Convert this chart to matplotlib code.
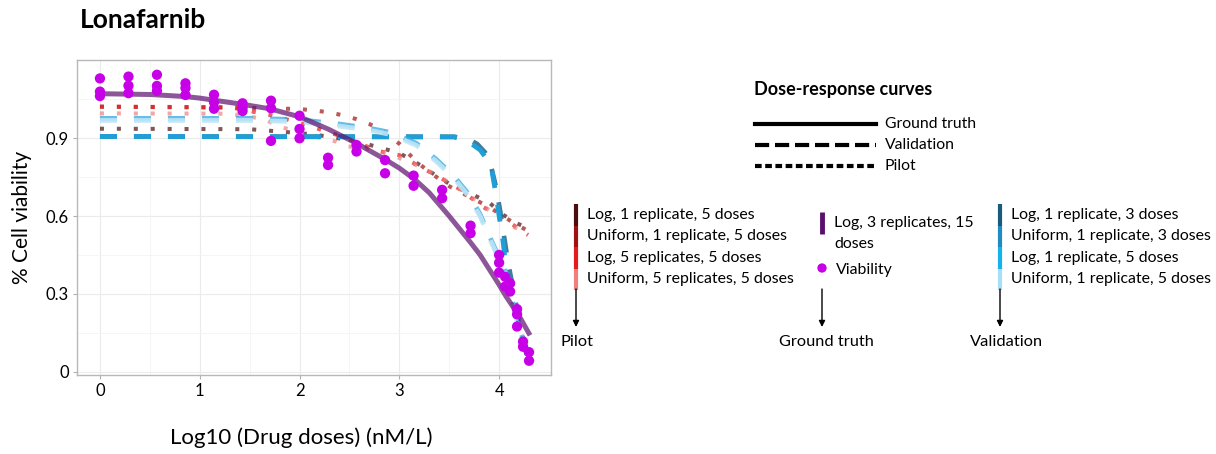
import matplotlib.pyplot as plt

plt.rcParams['font.family'] = ['Lato', 'DejaVu Sans']

# --- viability measurements (log10 dose, % viability) ---
dose_pts = [0, 0, 0, 0.286, 0.286, 0.286, 0.571, 0.571, 0.571,
            0.857, 0.857, 0.857, 1.143, 1.143, 1.143, 1.429, 1.429, 1.429,
            1.714, 1.714, 1.714, 2.0, 2.0, 2.0, 2.286, 2.286, 2.571, 2.571,
            2.857, 2.857, 3.143, 3.143, 3.429, 3.429, 3.714, 3.714,
            4.0, 4.0, 4.0, 4.06, 4.06, 4.11, 4.11, 4.18, 4.18, 4.18,
            4.24, 4.24, 4.30, 4.30]
viab_pts = [1.131, 1.080, 1.063, 1.138, 1.103, 1.074, 1.145, 1.102, 1.083,
            1.112, 1.094, 1.067, 1.068, 1.039, 1.014, 1.035, 1.018, 1.005,
            1.045, 1.016, 0.890, 0.987, 0.936, 0.900, 0.825, 0.797, 0.874, 0.849,
            0.816, 0.765, 0.756, 0.717, 0.701, 0.669, 0.563, 0.534,
            0.450, 0.420, 0.382, 0.366, 0.328, 0.341, 0.309, 0.241, 0.221, 0.174,
            0.116, 0.096, 0.075, 0.042]

# --- fitted curves ---
gt_x = [0, 0.5, 0.857, 1.0, 1.43, 1.7, 2.0, 2.29, 2.57, 2.86, 3.0, 3.15,
        3.3, 3.5, 3.71, 3.81, 4.0, 4.07, 4.2, 4.31]
gt_y = [1.072, 1.069, 1.061, 1.055, 1.031, 1.014, 0.983, 0.935, 0.881, 0.818,
        0.785, 0.743, 0.69, 0.60, 0.50, 0.45, 0.335, 0.29, 0.215, 0.14]

pilot_curves = [
    # Log, 1 replicate, 5 doses
    ([0, 1.5, 1.84, 2.14, 2.44, 2.69, 2.86, 3.0, 3.17, 3.31, 3.51, 3.71, 3.91, 4.04, 4.18, 4.3],
     [0.937, 0.935, 0.925, 0.915, 0.897, 0.876, 0.858, 0.843, 0.806, 0.771, 0.722, 0.688, 0.649, 0.605, 0.572, 0.55]),
    # Uniform, 1 replicate, 5 doses
    ([0, 1.34, 2.0, 2.15, 2.3, 2.44, 2.57, 2.7, 2.82, 3.0, 3.17, 3.31, 3.5, 3.7, 3.9, 4.1, 4.3],
     [1.022, 1.018, 1.013, 1.007, 1.0, 0.988, 0.974, 0.955, 0.932, 0.879, 0.81, 0.768, 0.715, 0.675, 0.635, 0.585, 0.54]),
    # Log, 5 replicates, 5 doses
    ([0, 1.3, 1.7, 2.0, 2.4, 2.8, 3.0, 3.21, 3.4, 3.6, 3.84, 4.01, 4.14, 4.29],
     [1.022, 1.02, 0.99, 0.96, 0.91, 0.85, 0.835, 0.79, 0.75, 0.705, 0.635, 0.598, 0.566, 0.527]),
    # Uniform, 5 replicates, 5 doses
    ([0, 1.3, 1.64, 1.8, 1.97, 2.2, 2.37, 2.49, 2.6, 2.8, 2.97, 3.21, 3.37, 3.54, 3.67, 3.81, 3.94, 4.14, 4.29],
     [0.996, 0.995, 0.975, 0.945, 0.926, 0.903, 0.887, 0.868, 0.866, 0.849, 0.829, 0.79, 0.758, 0.72, 0.688, 0.649, 0.611, 0.559, 0.534]),
]

val_curves = [
    # Log, 1 replicate, 3 doses
    ([0, 3.55, 3.7, 3.78, 3.86, 3.92, 3.97, 4.01, 4.05, 4.09, 4.14, 4.2, 4.28],
     [0.907, 0.906, 0.895, 0.878, 0.845, 0.79, 0.71, 0.62, 0.52, 0.42, 0.32, 0.2, 0.06]),
    # Uniform, 1 replicate, 3 doses
    ([0, 3.55, 3.67, 3.74, 3.81, 3.86, 3.93, 3.97, 4.0, 4.04, 4.07, 4.12, 4.16, 4.22, 4.29],
     [0.907, 0.905, 0.891, 0.874, 0.855, 0.829, 0.77, 0.68, 0.60, 0.50, 0.40, 0.31, 0.25, 0.148, 0.045]),
    # Log, 1 replicate, 5 doses
    ([0, 1.5, 2.0, 2.4, 2.7, 2.92, 3.17, 3.37, 3.54, 3.69, 3.81, 3.91, 4.0, 4.07, 4.12, 4.18, 4.25, 4.31],
     [0.977, 0.977, 0.972, 0.955, 0.939, 0.922, 0.881, 0.819, 0.757, 0.687, 0.607, 0.517, 0.44, 0.38, 0.29, 0.2, 0.11, 0.058]),
    # Uniform, 1 replicate, 5 doses
    ([0, 1.5, 2.0, 2.4, 2.7, 2.92, 3.17, 3.37, 3.54, 3.69, 3.81, 3.91, 4.0, 4.07, 4.12, 4.18, 4.25, 4.31],
     [0.969, 0.969, 0.964, 0.947, 0.931, 0.914, 0.873, 0.811, 0.749, 0.679, 0.599, 0.509, 0.432, 0.372, 0.282, 0.192, 0.102, 0.05]),
]

pilot_labels = ["Log, 1 replicate, 5 doses", "Uniform, 1 replicate, 5 doses",
                "Log, 5 replicates, 5 doses", "Uniform, 5 replicates, 5 doses"]
pilot_colors = ['#4A0E0E', '#A01212', '#E41A1C', '#F08080']
val_labels = ["Log, 1 replicate, 3 doses", "Uniform, 1 replicate, 3 doses",
              "Log, 1 replicate, 5 doses", "Uniform, 1 replicate, 5 doses"]
val_colors = ['#1A5B7A', '#1E8BC3', '#16B2EE', '#A7DFF7']
# colours of the drawn validation curves (lighter than the key bars)
val_line_colors = ['#2B6F92', '#1F9FD8', '#3FAEE2', '#BDE5F6']
val_line_alpha = [0.9, 1.0, 0.8, 0.9]
gt_color = '#5B0F6E'
dot_color = '#C800E8'

x_ticks = [0, 1, 2, 3, 4]
y_ticks = [0, 0.3, 0.6, 0.9]
y_ticklabels = ['0', '0.3', '0.6', '0.9']

W, H = 1216, 454
fig = plt.figure(figsize=(W / 100, H / 100), dpi=100)
ax = fig.add_axes([76.7 / W, 1 - 375 / H, (551 - 76.7) / W, (375 - 60) / H])

dot = (0, (1, 3.2))
dash = (0, (3.6, 3.6))
for (xs, ys), c in zip(pilot_curves, pilot_colors):
    ax.plot(xs, ys, color=c, alpha=0.7, lw=2.9, linestyle=dot, zorder=2)
for (xs, ys), c, a in zip(val_curves, val_line_colors, val_line_alpha):
    ax.plot(xs, ys, color=c, alpha=a, lw=3.4, linestyle=dash, zorder=3)
ax.plot(gt_x, gt_y, color=gt_color, alpha=0.7, lw=3.6, solid_capstyle='butt', zorder=4)
ax.scatter(dose_pts, viab_pts, s=55, color=dot_color, edgecolors='none', zorder=5)

ax.set_xlim(-0.233, 4.52)
ax.set_ylim(-0.013, 1.202)
ax.set_xticks(x_ticks)
ax.set_yticks(y_ticks)
ax.set_yticklabels(y_ticklabels)
ax.set_xticks([0.5, 1.5, 2.5, 3.5], minor=True)
ax.set_yticks([0.15, 0.45, 0.75, 1.05], minor=True)
ax.grid(True, which='major', color='#EBEBEB', lw=0.8)
ax.grid(True, which='minor', color='#F4F4F4', lw=0.6)
ax.set_axisbelow(True)
ax.tick_params(which='major', length=3, color='#B0B0B0', labelsize=12, pad=2.5)
ax.tick_params(which='minor', length=0)
for s in ax.spines.values():
    s.set_color('#B8B8B8')
    s.set_linewidth(1)
ax.set_ylabel("% Cell viability", fontsize=15, labelpad=10)

fig.text(80 / W, 1 - 20 / H, "Lonafarnib", fontsize=19, fontweight='bold', va='center')
fig.text(301 / W, 1 - 438 / H, "Log10 (Drug doses) (nM/L)", fontsize=16,
         ha='center', va='center')

# overlay for the legend panel, in pixel units
lg = fig.add_axes([0, 0, 1, 1])
lg.set_xlim(0, W)
lg.set_ylim(H, 0)
lg.axis('off')

lg.text(754, 90, "Dose-response curves", fontsize=13, fontweight='bold', va='center')
for y, ls, name in [(124, '-', "Ground truth"), (145, (0, (3.4, 1.4)), "Validation"),
                    (166, (0, (1.6, 0.85)), "Pilot")]:
    lg.plot([755, 876], [y, y], color='black', lw=3, linestyle=ls)
    lg.text(885, y, name, fontsize=11.3, va='center')


def bar_group(x, labels, colors, y0, step):
    for i, (lab, c) in enumerate(zip(labels, colors)):
        lg.plot([x, x], [y0 + i * step, y0 + (i + 1) * step], color=c, lw=3,
                solid_capstyle='butt')
        lg.text(x + 11, y0 + i * step + step / 2, lab, fontsize=11.4, va='center')


bar_group(576, pilot_labels, pilot_colors, 204, 21.5)
bar_group(1000, val_labels, val_colors, 204, 21.5)

lg.plot([822, 822], [212, 234], color=gt_color, lw=3.5, solid_capstyle='butt')
lg.text(834, 223, "Log, 3 replicates, 15", fontsize=11.4, va='center')
lg.text(834, 244, "doses", fontsize=11.4, va='center')
lg.scatter([822], [268], s=45, color=dot_color, edgecolors='none')
lg.text(836, 270, "Viability", fontsize=11.4, va='center')

for x, name, tx in [(576, "Pilot", 560), (822, "Ground truth", 779), (1000, "Validation", 970)]:
    lg.annotate('', xy=(x, 327), xytext=(x, 289),
                arrowprops=dict(arrowstyle='-|>', color='black', lw=1, mutation_scale=9,
                                shrinkA=0, shrinkB=0))
    lg.text(tx, 342, name, fontsize=11.8, va='center')

fig.savefig('out.png', dpi=100)
